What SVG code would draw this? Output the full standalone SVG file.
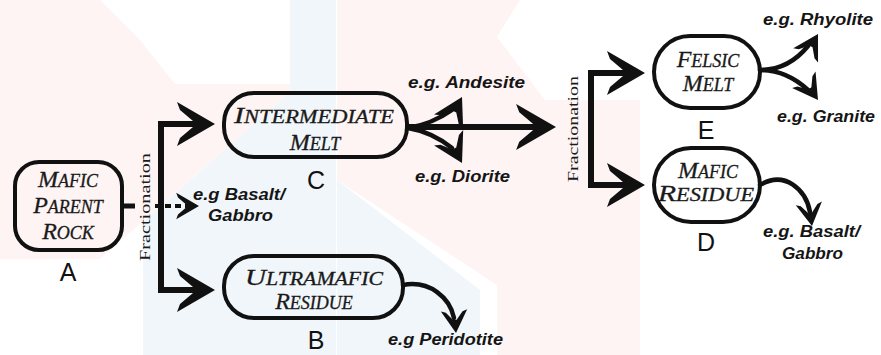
<svg xmlns="http://www.w3.org/2000/svg" xmlns:xlink="http://www.w3.org/1999/xlink" width="881" height="355" viewBox="0 0 881 355">
<defs>
<style>
.node{fill:none;stroke:#111;stroke-width:4}
.nt{font-family:"Liberation Serif",serif;font-style:italic;fill:#1a1a1a;stroke:#1a1a1a;stroke-width:0.3;text-anchor:middle}
.big{font-size:24px}
.sm{font-size:18px}
.lbl{font-family:"Liberation Sans",sans-serif;font-size:25px;fill:#111;text-anchor:middle}
.eg{font-family:"Liberation Sans",sans-serif;font-weight:bold;font-style:italic;font-size:16px;fill:#151515}
.fr{font-family:"Liberation Serif",serif;font-size:14px;fill:#1a1a1a;text-anchor:middle}
.bar{fill:none;stroke:#111;stroke-width:6}
.cv{fill:none;stroke:#111;stroke-width:4.5;stroke-linecap:round}
.wm-p{fill:#fef4f4}
.wm-b{fill:#f1f6fa}
</style>
<path id="ah" d="M0,0 L-38,-22 L-35,-14 L-22,-3 L-22,3 L-35,14 L-38,22 Z" fill="#111"/>
</defs>
<rect width="881" height="355" fill="#ffffff"/>
<g id="watermark">
<polygon class="wm-p" points="0,0 100,0 140,40 175,84 290,84 290,92 100,259 0,259"/>
<polygon class="wm-b" points="290,0 336,0 336,355 290,355"/>
<polygon class="wm-b" points="290,92 143,222 143,355 290,355"/>
<polygon class="wm-p" points="337,0 520,0 497,37 545,100 640,100 640,355 497,355 497,285 337,180"/>
<polygon class="wm-b" points="337,180 480,290 480,355 337,355"/>
</g>
<g id="connectors">
<path class="bar" d="M200,124 H161 V290 H200"/>
<use href="#ah" transform="translate(215,124)"/>
<use href="#ah" transform="translate(215,290)"/>
<line x1="122" y1="206" x2="135" y2="206" stroke="#111" stroke-width="5"/>
<line x1="155" y1="206" x2="186" y2="206" stroke="#111" stroke-width="4" stroke-dasharray="6,4"/>
<use href="#ah" transform="translate(199,206) scale(0.6)"/>
<text class="fr" transform="translate(150,207) rotate(-90)" textLength="108" lengthAdjust="spacingAndGlyphs">Fractionation</text>
<line x1="407" y1="127" x2="540" y2="127" stroke="#111" stroke-width="6"/>
<use href="#ah" transform="translate(556,127) scale(1.05)"/>
<path class="cv" d="M408,128 Q432,124 452,110"/>
<use href="#ah" transform="translate(462,97) rotate(-62) scale(0.75)"/>
<path class="cv" d="M408,128 Q432,132 452,148"/>
<use href="#ah" transform="translate(462,163) rotate(62) scale(0.75)"/>
<path class="bar" d="M630,73 H591 V185 H630"/>
<use href="#ah" transform="translate(645,73)"/>
<use href="#ah" transform="translate(645,185)"/>
<text class="fr" transform="translate(578,129) rotate(-90)" textLength="106" lengthAdjust="spacingAndGlyphs">Fractionation</text>
<path class="cv" d="M760,70 C780,70 795,62 808,46"/>
<use href="#ah" transform="translate(818,34) rotate(-60) scale(0.65)"/>
<path class="cv" d="M760,70 C780,70 795,78 808,90"/>
<use href="#ah" transform="translate(818,100) rotate(55) scale(0.65)"/>
<path class="cv" d="M760,185 C785,170 806,190 810,212"/>
<use href="#ah" transform="translate(812,226) rotate(82) scale(0.6)"/>
<path class="cv" d="M403,285 C430,280 450,298 454,318"/>
<use href="#ah" transform="translate(456,333) rotate(85) scale(0.6)"/>
</g>
<g id="node-A">
<rect class="node" x="15" y="162" width="107" height="88" rx="24"/>
<text class="nt" x="68" y="187"><tspan class="big">M</tspan><tspan class="sm">AFIC</tspan></text>
<text class="nt" x="68" y="213"><tspan class="big">P</tspan><tspan class="sm">ARENT</tspan></text>
<text class="nt" x="68" y="239"><tspan class="big">R</tspan><tspan class="sm">OCK</tspan></text>
<text class="lbl" x="68" y="281">A</text>
</g>
<g id="node-C">
<rect class="node" x="224" y="93" width="183" height="64" rx="30"/>
<text class="nt" x="314" y="123" textLength="160" lengthAdjust="spacingAndGlyphs"><tspan class="big">I</tspan><tspan class="sm">NTERMEDIATE</tspan></text>
<text class="nt" x="315" y="150"><tspan class="big">M</tspan><tspan class="sm">ELT</tspan></text>
<text class="lbl" x="316" y="189">C</text>
</g>
<g id="node-B">
<rect class="node" x="224" y="256" width="179" height="62" rx="30"/>
<text class="nt" x="314" y="285" textLength="138" lengthAdjust="spacingAndGlyphs"><tspan class="big">U</tspan><tspan class="sm">LTRAMAFIC</tspan></text>
<text class="nt" x="314" y="309"><tspan class="big">R</tspan><tspan class="sm">ESIDUE</tspan></text>
<text class="lbl" x="316" y="349">B</text>
</g>
<g id="node-E">
<rect class="node" x="654" y="36" width="106" height="72" rx="36"/>
<text class="nt" x="708" y="67"><tspan class="big">F</tspan><tspan class="sm">ELSIC</tspan></text>
<text class="nt" x="708" y="91"><tspan class="big">M</tspan><tspan class="sm">ELT</tspan></text>
<text class="lbl" x="706" y="139">E</text>
</g>
<g id="node-D">
<rect class="node" x="654" y="148" width="106" height="74" rx="37"/>
<text class="nt" x="708" y="178"><tspan class="big">M</tspan><tspan class="sm">AFIC</tspan></text>
<text class="nt" x="706" y="201" textLength="96" lengthAdjust="spacingAndGlyphs"><tspan class="big">R</tspan><tspan class="sm">ESIDUE</tspan></text>
<text class="lbl" x="706" y="251">D</text>
</g>
<g id="examples">
<text class="eg" x="193" y="200" textLength="92" lengthAdjust="spacingAndGlyphs">e.g Basalt/</text>
<text class="eg" x="208" y="221" textLength="65" lengthAdjust="spacingAndGlyphs">Gabbro</text>
<text class="eg" x="408" y="88" textLength="117" lengthAdjust="spacingAndGlyphs">e.g. Andesite</text>
<text class="eg" x="415" y="182" textLength="95" lengthAdjust="spacingAndGlyphs">e.g. Diorite</text>
<text class="eg" x="388" y="345" textLength="115" lengthAdjust="spacingAndGlyphs">e.g Peridotite</text>
<text class="eg" x="763" y="25" textLength="110" lengthAdjust="spacingAndGlyphs">e.g. Rhyolite</text>
<text class="eg" x="777" y="122" textLength="98" lengthAdjust="spacingAndGlyphs">e.g. Granite</text>
<text class="eg" x="763" y="237" textLength="97" lengthAdjust="spacingAndGlyphs">e.g. Basalt/</text>
<text class="eg" x="782" y="259" textLength="61" lengthAdjust="spacingAndGlyphs">Gabbro</text>
</g>
</svg>
